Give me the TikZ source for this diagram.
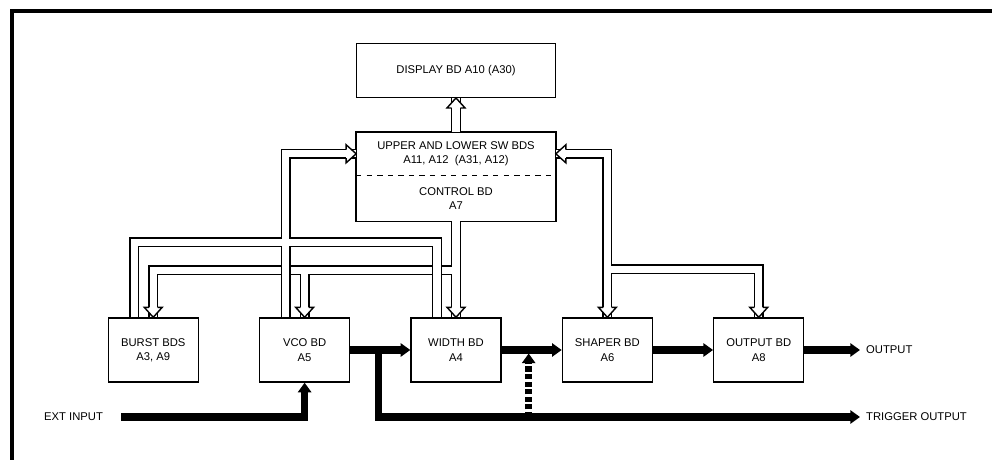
\documentclass[tikz,border=0pt]{standalone}
\usepackage{fontspec}
\setmainfont{Liberation Sans}
\usepackage{tikz}
\usetikzlibrary{arrows.meta, positioning, calc, fit}

\begin{document}
\begin{tikzpicture}[
    x=0.02cm, y=0.02cm,
    node distance=1.2cm,
    font=\fontsize{6.4}{8.2}\selectfont,
    board/.style={rectangle, draw, line width=0.8pt, minimum width=1.8cm, minimum height=1.28cm, align=center, inner sep=0pt},
    wide/.style={rectangle, minimum width=3.98cm, align=center, inner sep=0pt},
    bus/.style={draw, line width=5.7pt, postaction={draw=white, line width=4.1pt}},
    sig/.style={line width=4pt, -{Triangle[length=5.5pt, width=7.5pt]}},
    bushead/.pic={\draw[line width=0.8pt, fill=white] (-10,-4.3) -- (-10,-9) -- (0,0) -- (-10,9) -- (-10,4.3);}
]
\useasboundingbox (0,0) rectangle (992,460);
\draw[line width=2.3pt] (12,0) -- (12,449) -- (992,449);
\node[board] (width) at (456,110) {WIDTH BD\\A4};
\node[board, left=of width] (vco) {VCO BD\\A5};
\node[board, left=of vco] (burst) {BURST BDS\\A3, A9};
\node[board, right=of width] (shaper) {SHAPER BD\\A6};
\node[board, right=of shaper] (output) {OUTPUT BD\\A8};
\node[wide, minimum height=0.9cm] (ctrl) at (456,261.5) {CONTROL BD\\A7};
\node[wide, minimum height=0.86cm, above=0pt of ctrl] (sw) {UPPER AND LOWER SW BDS\\A11, A12\ \ (A31, A12)};
\node[draw, line width=0.8pt, inner sep=0pt, fit=(sw)(ctrl)] (swctrl) {};
\draw[dashed, line width=0.6pt] (sw.south west) -- (sw.south east);
\node[wide, draw, line width=0.8pt, minimum height=1.08cm, above=0.68cm of sw] (disp) {DISPLAY BD A10 (A30)};
\node[anchor=west] (extin) at (38,43) {EXT INPUT};
\coordinate (outp) at (860,110);
\coordinate (trig) at (860,43);
\node[right=0pt of outp] (outlbl) {OUTPUT};
\node[right=0pt of trig] (triglbl) {TRIGGER OUTPUT};
\coordinate (tap) at ($(vco.east)!0.47!(width.west)$);
\coordinate (tap2) at ($(width.east)!0.45!(shaper.west)$);
\draw[sig] (vco) -- (width);
\draw[sig] (width) -- (shaper);
\draw[sig] (shaper) -- (output);
\draw[sig] (output) -- (outp);
\draw[sig] (tap) |- (trig);
\draw[sig] ([xshift=7pt]extin.east) -| (vco.south);
\draw[sig, dash pattern=on 3pt off 1.3pt] (tap2 |- trig) -- ([yshift=-2pt]tap2);
\draw[bus] (sw.north) -- (disp.south);
\pic[rotate=90] at (disp.south) {bushead};
\draw[bus] (ctrl.south) -- (width.north)
           ($(width.north)+(0,47)$) -| (burst.north)
           ($(vco.north)+(0,47)$) -- (vco.north);
\draw[bus] ($(burst.north)+(-19,0)$) -- ++(0,75) -| ($(width.north)+(-19,0)$)
           ($(vco.north)+(-19,0)$) |- (sw.west);
\draw[bus] (sw.east) -| (shaper.north)
           ($(shaper.north)+(0,48)$) -| (output.north);
\pic at (sw.west) {bushead};
\pic[rotate=180] at (sw.east) {bushead};
\foreach \b in {burst, vco, width, shaper, output}
    \pic[rotate=-90] at (\b.north) {bushead};
\end{tikzpicture}
\end{document}
